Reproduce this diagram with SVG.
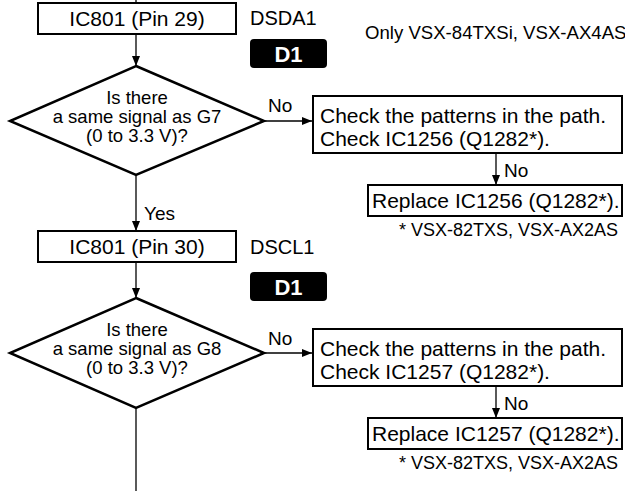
<svg xmlns="http://www.w3.org/2000/svg" width="625" height="491" viewBox="0 0 625 491">
<defs>
<marker id="ah" viewBox="0 0 10 8" refX="10" refY="4" markerWidth="10" markerHeight="8" markerUnits="userSpaceOnUse" orient="auto">
<path d="M0,0 L10,4 L0,8 Z" fill="#000"/>
</marker>
<style>
text{font-family:"Liberation Sans",Arial,sans-serif;fill:#000}
.box{fill:#fff;stroke:#000;stroke-width:2}
.dia{fill:#fff;stroke:#000;stroke-width:2.5;stroke-linejoin:miter}
.c{fill:none;stroke:#000;stroke-width:1.3}
.a{marker-end:url(#ah)}
.t21{font-size:21px}
.t19{font-size:19px}
.td{font-size:18.5px}
.t18{font-size:18px}
.mid{text-anchor:middle}
.end{text-anchor:end}
.tag{fill:#000}
.tagt{font-size:22px;font-weight:bold;fill:#fff;text-anchor:middle}
</style>
</defs>
<rect width="625" height="491" fill="#fff"/>
<g id="connectors">
<line class="c" x1="136" y1="0" x2="136" y2="3"/>
<line class="c a" x1="136" y1="34" x2="136" y2="66"/>
<line class="c a" x1="264" y1="121" x2="312" y2="121"/>
<line class="c a" x1="496" y1="153" x2="496" y2="185"/>
<line class="c a" x1="136" y1="175" x2="136" y2="231"/>
<line class="c a" x1="136" y1="262" x2="136" y2="298"/>
<line class="c a" x1="264" y1="353" x2="312" y2="353"/>
<line class="c a" x1="496" y1="386" x2="496" y2="418"/>
<line class="c" x1="136" y1="408" x2="136" y2="491"/>
<text class="t19" x="268" y="112">No</text>
<text class="t19" x="504" y="177">No</text>
<text class="t19" x="144" y="220">Yes</text>
<text class="t19" x="268" y="345">No</text>
<text class="t19" x="504" y="410">No</text>
</g>
<g id="ic801-pin29">
<rect class="box" x="38" y="3" width="198" height="31"/>
<text class="t21 mid" x="137" y="26">IC801 (Pin 29)</text>
</g>
<g id="dsda1-label">
<text class="t19" x="250" y="25" style="font-size:20px">DSDA1</text>
</g>
<g id="d1-tag-1">
<rect class="tag" x="250" y="39" width="77" height="29" rx="4"/>
<text class="tagt" x="288.5" y="62">D1</text>
</g>
<g id="note-only">
<text class="t18" x="365" y="39" style="font-size:18.6px">Only VSX-84TXSi, VSX-AX4AS</text>
</g>
<g id="decision-g7">
<polygon class="dia" points="136,66 264,121 136,175 10,121"/>
<text class="td mid" x="137" y="104">Is there</text>
<text class="td mid" x="137" y="123">a same signal as G7</text>
<text class="td mid" x="137" y="142">(0 to 3.3 V)?</text>
</g>
<g id="check-ic1256">
<rect class="box" x="313" y="96" width="309" height="57"/>
<text class="t21" x="320" y="123">Check the patterns in the path.</text>
<text class="t21" x="320" y="146">Check IC1256 (Q1282*).</text>
</g>
<g id="replace-ic1256">
<rect class="box" x="368" y="185" width="254" height="31"/>
<text class="t21" x="372" y="208">Replace IC1256 (Q1282*).</text>
</g>
<g id="footnote-1">
<text class="t18 end" x="618" y="236">* VSX-82TXS, VSX-AX2AS</text>
</g>
<g id="ic801-pin30">
<rect class="box" x="38" y="231" width="198" height="31"/>
<text class="t21 mid" x="137" y="254">IC801 (Pin 30)</text>
</g>
<g id="dscl1-label">
<text class="t19" x="250" y="254" style="font-size:20px">DSCL1</text>
</g>
<g id="d1-tag-2">
<rect class="tag" x="250" y="272" width="77" height="29" rx="4"/>
<text class="tagt" x="288.5" y="295">D1</text>
</g>
<g id="decision-g8">
<polygon class="dia" points="136,298 264,353 136,408 10,353"/>
<text class="td mid" x="137" y="336">Is there</text>
<text class="td mid" x="137" y="355">a same signal as G8</text>
<text class="td mid" x="137" y="374">(0 to 3.3 V)?</text>
</g>
<g id="check-ic1257">
<rect class="box" x="313" y="329" width="309" height="57"/>
<text class="t21" x="320" y="356">Check the patterns in the path.</text>
<text class="t21" x="320" y="379">Check IC1257 (Q1282*).</text>
</g>
<g id="replace-ic1257">
<rect class="box" x="368" y="418" width="254" height="31"/>
<text class="t21" x="372" y="441">Replace IC1257 (Q1282*).</text>
</g>
<g id="footnote-2">
<text class="t18 end" x="618" y="469">* VSX-82TXS, VSX-AX2AS</text>
</g>
</svg>
